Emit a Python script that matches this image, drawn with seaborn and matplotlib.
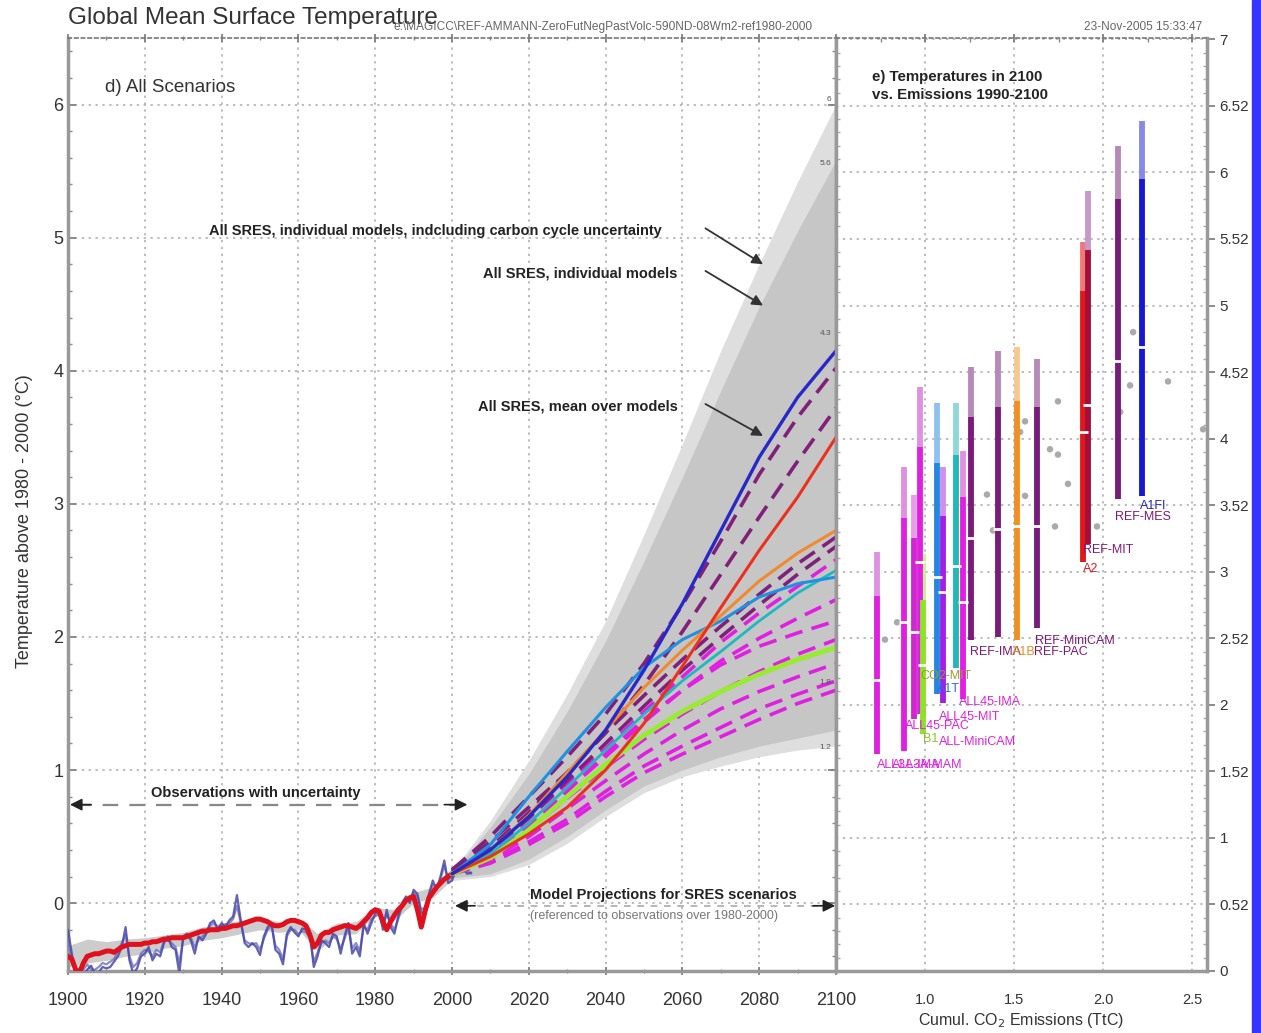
import numpy as np
import pandas as pd
import matplotlib
matplotlib.use('Agg')
import matplotlib.pyplot as plt
import seaborn as sns
from matplotlib.patches import Rectangle
from matplotlib.ticker import MultipleLocator, FixedLocator

sns.set_theme(style='white')
plt.rcParams['font.family'] = ['Liberation Sans', 'DejaVu Sans']

# ---------------- observations 1900-2005 ----------------
obs_years = list(range(1900, 2006))
obs_blue = [-0.20, -0.38, -0.53, -0.55, -0.54, -0.50, -0.47, -0.53, -0.52, -0.48,
            -0.49, -0.48, -0.44, -0.40, -0.33, -0.18, -0.43, -0.53, -0.49, -0.40,
            -0.38, -0.33, -0.43, -0.38, -0.40, -0.30, -0.25, -0.33, -0.35, -0.53,
            -0.25, -0.23, -0.28, -0.38, -0.25, -0.28, -0.23, -0.15, -0.13, -0.20,
            -0.15, -0.18, -0.13, -0.10, 0.06, -0.13, -0.30, -0.33, -0.30, -0.33,
            -0.39, -0.25, -0.18, -0.15, -0.35, -0.38, -0.46, -0.23, -0.18, -0.22,
            -0.25, -0.19, -0.20, -0.23, -0.48, -0.40, -0.28, -0.30, -0.33, -0.23,
            -0.25, -0.38, -0.25, -0.15, -0.38, -0.33, -0.40, -0.15, -0.23, -0.15,
            -0.08, -0.05, -0.20, -0.05, -0.18, -0.23, -0.10, 0.00, 0.05, 0.00,
            0.10, 0.07, -0.08, -0.05, 0.07, 0.17, 0.10, 0.20, 0.32, 0.15,
            0.17, 0.25, 0.26, 0.25, 0.22, 0.23]
obs_blue2 = [-0.28, -0.42, -0.50, -0.52, -0.50, -0.46, -0.50, -0.50, -0.48, -0.45,
             -0.46, -0.44, -0.42, -0.36, -0.30, -0.24, -0.40, -0.48, -0.45, -0.38,
             -0.35, -0.36, -0.40, -0.35, -0.37, -0.28, -0.28, -0.30, -0.33, -0.45,
             -0.27, -0.25, -0.26, -0.33, -0.27, -0.25, -0.21, -0.17, -0.15, -0.18,
             -0.17, -0.16, -0.15, -0.12, -0.02, -0.15, -0.28, -0.30, -0.31, -0.30,
             -0.35, -0.27, -0.20, -0.17, -0.32, -0.35, -0.42, -0.25, -0.20, -0.20,
             -0.23, -0.21, -0.22, -0.26, -0.44, -0.37, -0.30, -0.28, -0.30, -0.25,
             -0.27, -0.34, -0.27, -0.18, -0.34, -0.30, -0.36, -0.18, -0.20, -0.12,
             -0.10, -0.08, -0.17, -0.08, -0.15, -0.20, -0.12, -0.03, 0.03, 0.02,
             0.08, 0.05, -0.05, -0.03, 0.05, 0.14, 0.12, 0.18, 0.28, 0.18,
             0.19, 0.23, 0.24, 0.26, 0.24, 0.22]

red_years = list(range(1900, 2001))
obs_red = [-0.40, -0.42, -0.50, -0.52, -0.45, -0.40, -0.39, -0.38, -0.38, -0.37,
           -0.36, -0.36, -0.37, -0.35, -0.33, -0.32, -0.31, -0.31, -0.31, -0.31,
           -0.30, -0.30, -0.29, -0.29, -0.28, -0.27, -0.27, -0.26, -0.26, -0.26,
           -0.26, -0.25, -0.24, -0.23, -0.22, -0.21, -0.21, -0.20, -0.20, -0.20,
           -0.19, -0.19, -0.18, -0.17, -0.17, -0.16, -0.15, -0.14, -0.13, -0.12,
           -0.12, -0.13, -0.14, -0.16, -0.17, -0.17, -0.16, -0.14, -0.13, -0.13,
           -0.14, -0.15, -0.17, -0.24, -0.33, -0.30, -0.24, -0.22, -0.22, -0.20,
           -0.19, -0.18, -0.17, -0.17, -0.18, -0.19, -0.17, -0.14, -0.11, -0.07,
           -0.05, -0.06, -0.14, -0.20, -0.14, -0.09, -0.05, -0.02, 0.02, 0.04,
           0.05, -0.05, -0.18, -0.06, 0.04, 0.08, 0.12, 0.15, 0.18, 0.20, 0.22]

band_years = list(range(1900, 2001, 5))
obs_band_hi = [-0.32, -0.27, -0.29, -0.27, -0.26, -0.24, -0.22, -0.18, -0.15, -0.13, -0.11,
               -0.14, -0.11, -0.23, -0.15, -0.14, -0.03, -0.05, 0.08, 0.12, 0.26]
obs_band_lo = [-0.48, -0.45, -0.43, -0.40, -0.38, -0.34, -0.32, -0.28, -0.26, -0.23, -0.20,
               -0.22, -0.20, -0.36, -0.24, -0.23, -0.09, -0.13, 0.00, 0.04, 0.18]

# ---------------- projections 2000-2100 ----------------
proj_years = [2000, 2010, 2020, 2030, 2040, 2050, 2060, 2070, 2080, 2090, 2100]
outer_hi = [0.24, 0.62, 1.07, 1.57, 2.12, 2.77, 3.45, 4.15, 4.80, 5.42, 6.00]
inner_hi = [0.23, 0.57, 0.97, 1.44, 1.97, 2.57, 3.20, 3.85, 4.48, 5.05, 5.58]
inner_lo = [0.19, 0.22, 0.33, 0.50, 0.70, 0.88, 1.00, 1.10, 1.18, 1.24, 1.30]
outer_lo = [0.17, 0.20, 0.29, 0.45, 0.65, 0.83, 0.95, 1.03, 1.10, 1.15, 1.18]

mean_A1FI = [0.22, 0.40, 0.65, 0.95, 1.30, 1.75, 2.25, 2.80, 3.35, 3.80, 4.15]
mean_A2 = [0.22, 0.35, 0.52, 0.72, 1.00, 1.35, 1.78, 2.22, 2.65, 3.05, 3.50]
mean_A1B = [0.22, 0.40, 0.66, 0.98, 1.30, 1.62, 1.90, 2.16, 2.42, 2.63, 2.80]
mean_A1T = [0.22, 0.44, 0.80, 1.14, 1.47, 1.77, 1.98, 2.12, 2.30, 2.40, 2.45]
mean_B2 = [0.22, 0.37, 0.60, 0.87, 1.15, 1.42, 1.67, 1.89, 2.12, 2.33, 2.50]
mean_B1 = [0.22, 0.34, 0.55, 0.80, 1.04, 1.26, 1.44, 1.59, 1.72, 1.83, 1.92]

ref_P1 = [0.25, 0.50, 0.80, 1.10, 1.42, 1.80, 2.24, 2.72, 3.22, 3.65, 4.02]
ref_P2 = [0.25, 0.46, 0.72, 0.98, 1.28, 1.64, 2.04, 2.47, 2.90, 3.32, 3.72]
ref_P3 = [0.24, 0.42, 0.68, 0.98, 1.28, 1.56, 1.83, 2.08, 2.32, 2.55, 2.75]
ref_P4 = [0.24, 0.40, 0.64, 0.92, 1.20, 1.48, 1.75, 2.00, 2.24, 2.47, 2.68]
all_M1 = [0.23, 0.40, 0.64, 0.90, 1.16, 1.44, 1.70, 1.96, 2.18, 2.38, 2.58]
all_M2 = [0.23, 0.38, 0.60, 0.85, 1.10, 1.36, 1.60, 1.82, 1.99, 2.14, 2.28]
all_M3 = [0.23, 0.37, 0.58, 0.84, 1.12, 1.38, 1.60, 1.79, 1.93, 2.03, 2.12]
all_M4 = [0.23, 0.35, 0.55, 0.79, 1.02, 1.23, 1.42, 1.59, 1.74, 1.87, 1.98]
all_M5 = [0.22, 0.33, 0.50, 0.71, 0.92, 1.12, 1.30, 1.46, 1.59, 1.70, 1.80]
all_M6 = [0.22, 0.31, 0.46, 0.63, 0.84, 1.03, 1.18, 1.32, 1.46, 1.57, 1.67]
all_M7 = [0.22, 0.30, 0.44, 0.60, 0.80, 0.98, 1.12, 1.25, 1.38, 1.50, 1.60]

# ---------------- panel e: temperatures in 2100 vs emissions ----------------
bar_names = ['ALL3A-IMA', 'ALL3A-MAM', 'ALL45-PAC', 'ALL45-MIT', 'B1', 'A1T', 'ALL-MiniCAM',
             'CO2-MIT', 'ALL45-IMA', 'REF-IMA', 'REF-PAC', 'A1B', 'REF-MiniCAM', 'A2', 'REF-MIT',
             'REF-MES', 'A1FI']
bar_emis = [0.730, 0.882, 0.938, 0.972, 0.989, 1.067, 1.101, 1.174, 1.213, 1.258, 1.410,
            1.517, 1.629, 1.888, 1.916, 2.084, 2.219]
bar_light_top = [3.15, 3.79, 3.58, 4.39, 3.13, 4.27, 3.79, 4.27, 3.91, 4.54, 4.66, 4.69,
                 4.60, 5.48, 5.86, 6.20, 6.39]
bar_dark_top = [2.82, 3.40, 3.25, 3.94, 2.79, 3.82, 3.42, 3.88, 3.56, 4.16, 4.24, 4.28,
                4.24, 5.11, 5.42, 5.80, 5.95]
bar_bottom = [1.63, 1.65, 1.89, 1.93, 1.78, 2.08, 2.01, 2.28, 2.04, 2.49, 2.51, 2.49,
              2.58, 3.07, 3.21, 3.55, 3.57]
bar_median = [2.19, 2.62, 2.55, 3.07, 2.30, 2.96, 2.85, 3.04, 2.77, 3.25, 3.32, 3.34,
              3.34, 4.05, 4.25, 4.58, 4.69]

dot_emis = [0.775, 0.843, 1.348, 1.534, 1.562, 1.562, 1.702, 1.747, 1.747, 1.803, 1.730,
            1.966, 1.382, 2.169, 2.152, 2.365, 2.562, 2.096]
dot_temp = [2.49, 2.62, 3.58, 4.05, 4.13, 3.57, 3.92, 3.88, 4.28, 3.66, 3.34, 3.34,
            3.31, 4.80, 4.40, 4.43, 4.07, 4.20]

right_tick_vals = [0, 0.5, 1, 1.5, 2, 2.5, 3, 3.5, 4, 4.5, 5, 5.5, 6, 6.5, 7]
right_tick_labels = ['0', '0.52', '1', '1.52', '2', '2.52', '3', '3.52', '4', '4.52',
                     '5', '5.52', '6', '6.52', '7']

# ---------------- styles ----------------
MAG, PUR = '#e020e0', '#7a1a7a'
bar_dark = [MAG, MAG, '#d028d0', MAG, '#8ee028', '#2288e0', '#a020e8', '#20b8b8', MAG,
            PUR, PUR, '#f09020', PUR, '#e01818', '#a0103a', PUR, '#1818d0']
bar_light = ['#e090e0', '#e090e0', '#e4a0e4', '#e090e0', '#c8f090', '#90c0f0', '#cc90f0',
             '#90d8d8', '#e090e0', '#b888b8', '#b888b8', '#f8c890', '#b888b8', '#f07878',
             '#c898c8', '#b888b8', '#8888e8']
label_col = [MAG, MAG, MAG, MAG, '#90c030', '#2070e0', MAG, '#9a9a30', MAG, PUR, PUR,
             '#f08a20', PUR, '#e01818', PUR, PUR, '#2020d0']
label_xy = [(0.730, 1.55), (0.815, 1.55), (0.885, 1.84), (1.08, 1.91), (0.989, 1.74),
            (1.067, 2.12), (1.08, 1.72), (0.975, 2.22), (1.19, 2.02), (1.25, 2.40),
            (1.61, 2.40), (1.49, 2.40), (1.62, 2.48), (1.885, 3.02), (1.890, 3.16),
            (2.07, 3.41), (2.205, 3.49)]

fig = plt.figure(figsize=(12.61, 10.33), dpi=100)
fig.patch.set_facecolor('white')
fig.patches.append(Rectangle((1252 / 1261, 0), 9 / 1261, 1, transform=fig.transFigure,
                             color='#3535ff', zorder=0))

bottom = 1 - 971 / 1033
height = (971 - 38) / 1033
axL = fig.add_axes([68 / 1261, bottom, (836 - 68) / 1261, height])
axR = fig.add_axes([836 / 1261, bottom, (1207 - 836) / 1261, height])

# ---------- left panel ----------
ax = axL
ax.set_xlim(1900, 2100)
ax.set_ylim(-0.51, 6.50)

ax.fill_between(proj_years, outer_lo, outer_hi, color='#dedede', lw=0, zorder=1)
ax.fill_between(proj_years, inner_lo, inner_hi, color='#c6c6c6', lw=0, zorder=1.1)
ax.fill_between(band_years, obs_band_lo, obs_band_hi, color='#cccccc', lw=0, zorder=1.2)

sns.lineplot(x=obs_years, y=obs_blue2, color='#7070c0', lw=1.6, alpha=0.8, ax=ax,
             estimator=None, zorder=3)
sns.lineplot(x=obs_years, y=obs_blue, color='#4848a8', lw=1.6, alpha=0.85, ax=ax,
             estimator=None, zorder=3)
sns.lineplot(x=red_years, y=obs_red, color='#e0101c', lw=3.6, ax=ax, estimator=None, zorder=4)

dash = (0, (5, 2.6))
for ser in [all_M7, all_M6, all_M5, all_M4, all_M3, all_M2, all_M1]:
    sns.lineplot(x=proj_years, y=ser, color=MAG, lw=2.6, linestyle=dash, ax=ax,
                 estimator=None, zorder=5)
for ser in [ref_P4, ref_P3, ref_P2, ref_P1]:
    sns.lineplot(x=proj_years, y=ser, color='#80207a', lw=2.6, linestyle=dash, ax=ax,
                 estimator=None, zorder=5)
sns.lineplot(x=proj_years, y=mean_B1, color='#98ec30', lw=3.5, ax=ax, estimator=None, zorder=6)
sns.lineplot(x=proj_years, y=mean_B2, color='#20b8c0', lw=2.0, ax=ax, estimator=None, zorder=6)
sns.lineplot(x=proj_years, y=mean_A1T, color='#2090e0', lw=2.2, ax=ax, estimator=None, zorder=6)
sns.lineplot(x=proj_years, y=mean_A1B, color='#f08a30', lw=2.2, ax=ax, estimator=None, zorder=6)
sns.lineplot(x=proj_years, y=mean_A2, color='#ec3020', lw=2.2, ax=ax, estimator=None, zorder=6)
sns.lineplot(x=proj_years, y=mean_A1FI, color='#2828c8', lw=2.4, ax=ax, estimator=None, zorder=6)

ax.set_xticks(range(1900, 2101, 20))
ax.xaxis.set_minor_locator(MultipleLocator(10))
ax.set_yticks(range(0, 7))
ax.yaxis.set_minor_locator(MultipleLocator(0.2))
ax.tick_params(axis='both', which='major', labelsize=13, labelcolor='#333', color='#777',
               direction='in', length=6, width=1.2)
ax.tick_params(axis='x', which='both', top=True, bottom=True, direction='inout')
ax.tick_params(axis='y', which='both', left=True, right=True, direction='in')
ax.tick_params(axis='both', which='minor', length=3, color='#888', width=1)
ax.tick_params(axis='x', which='major', pad=12)
ax.grid(True, which='major', linestyle=(0, (1.5, 3)), color='#aaaaaa', lw=1.1)
ax.set_axisbelow(True)
for s in ['left', 'bottom']:
    ax.spines[s].set_color('#999999')
    ax.spines[s].set_linewidth(2.5)
ax.spines['top'].set_linestyle((0, (2, 2)))
ax.spines['top'].set_color('#777')
ax.spines['top'].set_linewidth(1.2)
ax.spines['right'].set_color('#999999')
ax.spines['right'].set_linewidth(2.5)
ax.set_xlabel('')
ax.set_ylabel('Temperature above 1980 - 2000 (°C)', fontsize=13, color='#333')
ax.yaxis.set_label_coords(-0.0456, 0.482)

ax.text(1909.6, 6.13, 'd) All Scenarios', fontsize=13.5, color='#333', va='center')
ann_kw = dict(fontsize=10.5, color='#222', fontweight='bold', va='center', ha='right')
ax.text(2054.6, 5.05, 'All SRES, individual models, indcluding carbon cycle uncertainty', **ann_kw)
ax.text(2058.8, 4.73, 'All SRES, individual models', **ann_kw)
ax.text(2058.8, 3.73, 'All SRES, mean over models', **ann_kw)
arr = dict(arrowstyle='-|>', color='#333', lw=1.3, mutation_scale=16, shrinkA=0, shrinkB=0)
for (x0, y0, x1, y1) in [(2066, 5.07, 2081, 4.80), (2066, 4.75, 2081, 4.49), (2066, 3.75, 2081, 3.51)]:
    ax.annotate('', xy=(x1, y1), xytext=(x0, y0), arrowprops=arr, zorder=8)

small_kw = dict(fontsize=6, color='#555', ha='right', va='center', zorder=9)
for lbl, yv in [('6', 6.04), ('5.6', 5.56), ('4.3', 4.28), ('1.8', 1.66), ('1.2', 1.17)]:
    ax.text(2098.8, yv, lbl, **small_kw)

# observation arrow
ax.plot([1902, 2002], [0.74, 0.74], ls=(0, (7, 5)), color='#888', lw=1.6, zorder=7)
hd = dict(arrowstyle='-|>', color='#222', lw=1.2, mutation_scale=18, shrinkA=0, shrinkB=0)
ax.annotate('', xy=(1900.5, 0.74), xytext=(1906, 0.74), arrowprops=hd, zorder=8)
ax.annotate('', xy=(2004, 0.74), xytext=(1998, 0.74), arrowprops=hd, zorder=8)
ax.text(1949, 0.83, 'Observations with uncertainty', fontsize=10.5, fontweight='bold',
        color='#222', ha='center', va='center')

# projection arrow
ax.plot([2003, 2097], [-0.02, -0.02], ls=(0, (4, 4)), color='#aaa', lw=1.2, zorder=7)
ax.annotate('', xy=(2000.8, -0.02), xytext=(2006, -0.02), arrowprops=hd, zorder=8)
ax.annotate('', xy=(2099.8, -0.02), xytext=(2094, -0.02), arrowprops=hd, zorder=8)
ax.text(2020.2, 0.06, 'Model Projections for SRES scenarios', fontsize=10.5, fontweight='bold',
        color='#222', ha='left', va='center')
ax.text(2020.2, -0.10, '(referenced to observations over 1980-2000)', fontsize=9,
        color='#777', ha='left', va='center')

# ---------- right panel ----------
ax = axR
ax.set_xlim(0.5, 2.584)
ax.set_ylim(0, 7.01)
ax.yaxis.tick_right()
ax.set_yticks(right_tick_vals)
ax.set_yticklabels(right_tick_labels)
ax.set_xticks([1.0, 1.5, 2.0, 2.5])
ax.set_xticklabels(['1.0', '1.5', '2.0', '2.5'])
ax.xaxis.set_minor_locator(FixedLocator([0.75, 1.25, 1.75, 2.25]))
ax.yaxis.set_minor_locator(MultipleLocator(0.1))
ax.tick_params(axis='y', which='major', labelsize=11, labelcolor='#333', color='#777',
               direction='out', length=6, width=1.2, right=True, left=False, pad=3)
ax.tick_params(axis='y', which='minor', right=True, left=True, direction='in', length=3,
               color='#aaa')
ax.tick_params(axis='x', which='major', labelsize=10.5, labelcolor='#333', color='#777',
               direction='inout', length=6, top=True, pad=13)
ax.tick_params(axis='x', which='minor', direction='in', length=3, top=True, color='#888')
ax.grid(True, which='major', linestyle=(0, (1.5, 3)), color='#aaaaaa', lw=1.1)
ax.set_axisbelow(True)
for s in ['right', 'bottom', 'left']:
    ax.spines[s].set_color('#999999')
    ax.spines[s].set_linewidth(2.5)
ax.spines['top'].set_linestyle((0, (2, 2)))
ax.spines['top'].set_color('#777')
ax.spines['top'].set_linewidth(1.2)
ax.set_xlabel('Cumul. CO$_{2}$ Emissions (TtC)', fontsize=11.5, color='#333', labelpad=3)
ax.set_ylabel('')

sns.scatterplot(x=dot_emis, y=dot_temp, color='#aaaaaa', s=22, edgecolor='none', ax=ax, zorder=2)

for i in range(len(bar_names)):
    x = bar_emis[i]
    ax.vlines(x, bar_dark_top[i], bar_light_top[i], color=bar_light[i], lw=4.2, zorder=3)
    ax.vlines(x, bar_bottom[i], bar_dark_top[i], color=bar_dark[i], lw=4.2, zorder=4)
    ax.plot([x], [bar_median[i]], marker='_', color='white', ms=7, mew=2, zorder=5)
    lx, ly = label_xy[i]
    ax.text(lx, ly, bar_names[i], fontsize=9, color=label_col[i], ha='left', va='center',
            zorder=6)

ax.text(0.70, 6.65, 'e) Temperatures in 2100\nvs. Emissions 1990-2100', fontsize=10.8,
        fontweight='bold', color='#222', ha='left', va='center', linespacing=1.3)

# ---------- header texts ----------
fig.text(68 / 1261, 1 - 18 / 1033, 'Global Mean Surface Temperature', fontsize=17.5,
         color='#333', ha='left', va='center')
fig.text(812 / 1261, 1 - 27 / 1033,
         'e:\\MAGICC\\REF-AMMANN-ZeroFutNegPastVolc-590ND-08Wm2-ref1980-2000',
         fontsize=8.6, color='#666', ha='right', va='center')
fig.text(1202 / 1261, 1 - 27 / 1033, '23-Nov-2005 15:33:47', fontsize=8.6, color='#666',
         ha='right', va='center')

fig.savefig('out.png', dpi=100, facecolor='white')
